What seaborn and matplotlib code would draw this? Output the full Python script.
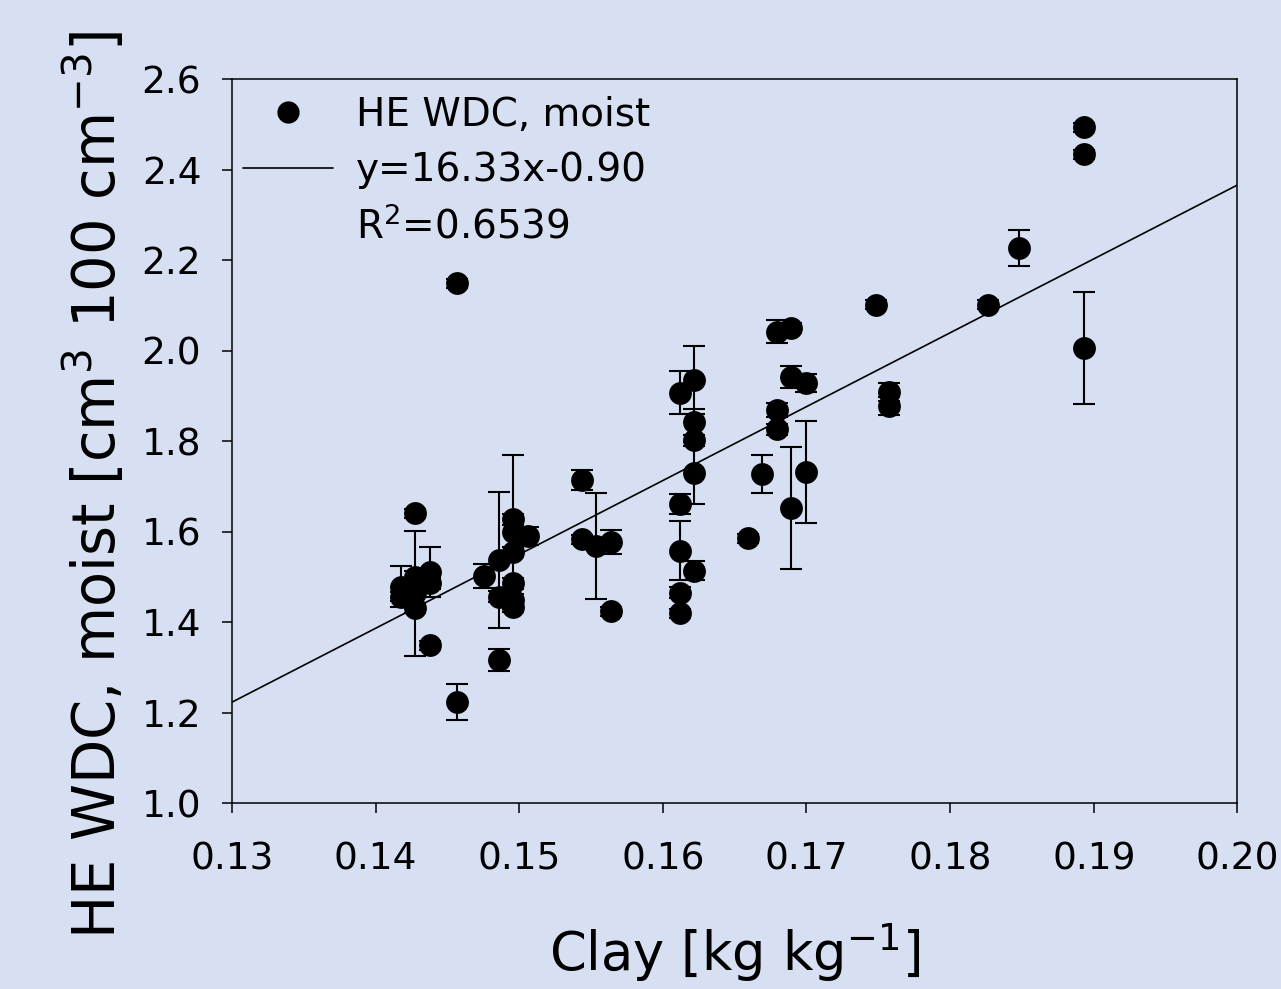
import numpy as np
import pandas as pd
import matplotlib.pyplot as plt
import seaborn as sns
from matplotlib.lines import Line2D

# Data (clay content, moist HE WDC, error bar half-width)
clay = [0.14278, 0.14278, 0.14278, 0.14278,
        0.14176, 0.14176,
        0.14378, 0.14378, 0.14378,
        0.14564, 0.14564,
        0.14756,
        0.14858, 0.14858, 0.14858,
        0.14957, 0.14957, 0.14957, 0.14957, 0.14957, 0.14957,
        0.15058,
        0.15440, 0.15440,
        0.15538,
        0.15642, 0.15642,
        0.16117, 0.16117, 0.16117, 0.16117, 0.16117,
        0.16217, 0.16217, 0.16217, 0.16217, 0.16217,
        0.16593,
        0.16693,
        0.16794, 0.16794, 0.16794,
        0.16895, 0.16895, 0.16895,
        0.16999, 0.16999,
        0.17481,
        0.17572, 0.17572,
        0.18261,
        0.18476,
        0.18929, 0.18929, 0.18929]
wdc = [1.641, 1.500, 1.464, 1.431,
       1.478, 1.456,
       1.511, 1.486, 1.349,
       1.224, 2.149,
       1.502,
       1.537, 1.456, 1.316,
       1.627, 1.600, 1.555, 1.486, 1.449, 1.434,
       1.590,
       1.714, 1.583,
       1.568,
       1.577, 1.424,
       1.907, 1.660, 1.558, 1.465, 1.419,
       1.935, 1.843, 1.802, 1.729, 1.513,
       1.585,
       1.727,
       2.042, 1.869, 1.826,
       2.050, 1.942, 1.653,
       1.929, 1.732,
       2.101,
       1.908, 1.877,
       2.101,
       2.227,
       2.494, 2.434, 2.006]
wdc_err = [0.010, 0.012, 0.138, 0.012,
           0.045, 0.010,
           0.055, 0.012, 0.010,
           0.040, 0.010,
           0.026,
           0.150, 0.012, 0.025,
           0.012, 0.170, 0.012, 0.012, 0.012, 0.012,
           0.020,
           0.022, 0.010,
           0.118,
           0.026, 0.010,
           0.048, 0.022, 0.066, 0.012, 0.010,
           0.075, 0.029, 0.012, 0.069, 0.021,
           0.010,
           0.042,
           0.025, 0.015, 0.012,
           0.010, 0.025, 0.135,
           0.020, 0.113,
           0.010,
           0.020, 0.020,
           0.010,
           0.040,
           0.010, 0.010, 0.124]

slope, intercept, r2 = 16.33, -0.90, 0.6539

df = pd.DataFrame({'clay': clay, 'wdc': wdc, 'err': wdc_err})

sns.set_style("ticks")
plt.rcParams['font.family'] = ['DejaVu Sans']
plt.rcParams['text.color'] = 'black'
plt.rcParams['axes.labelcolor'] = 'black'
plt.rcParams['xtick.color'] = 'black'
plt.rcParams['ytick.color'] = 'black'
bg = '#d6e0f2'

fig = plt.figure(figsize=(12.81, 9.89), dpi=100, facecolor=bg)
ax = fig.add_axes([0.181, 0.188, 0.785, 0.732])
ax.set_facecolor(bg)

ax.errorbar(df['clay'], df['wdc'], yerr=df['err'], fmt='none', ecolor='black',
            elinewidth=1.5, capsize=8, capthick=1.5, zorder=2)
sns.scatterplot(data=df, x='clay', y='wdc', ax=ax, color='black', s=270,
                linewidth=0, zorder=3, legend=False)

# regression line
xs = np.array([0.13, 0.20])
sns.lineplot(x=xs, y=slope * xs + intercept, ax=ax, color='black', lw=1.2, zorder=2)

ax.set_xlim(0.13, 0.20)
ax.set_ylim(1.0, 2.6)
ax.set_xticks(np.arange(0.13, 0.2001, 0.01))
ax.set_xticklabels([f'{v:.2f}' for v in np.arange(0.13, 0.2001, 0.01)])
ax.set_yticks(np.arange(1.0, 2.6001, 0.2))
ax.set_yticklabels([f'{v:.1f}' for v in np.arange(1.0, 2.6001, 0.2)])
ax.tick_params(direction='out', length=7, width=1.1, labelsize=27)
ax.tick_params(axis='x', pad=21)
ax.tick_params(axis='y', pad=15)
for sp in ax.spines.values():
    sp.set_visible(True)
    sp.set_color('black')
    sp.set_linewidth(1.1)

ax.set_xlabel('Clay [kg kg$^{-1}$]', fontsize=38)
ax.xaxis.set_label_coords(0.5, -0.163)
ax.set_ylabel('HE WDC, moist [cm$^3$ 100 cm$^{-3}$]', fontsize=41.5)
ax.yaxis.set_label_coords(-0.136, 0.44)
ax.yaxis.label.set_va('center')

handles = [Line2D([], [], marker='o', ls='none', color='black', markersize=15),
           Line2D([], [], color='black', lw=1.2),
           Line2D([], [], ls='none')]
labels = ['HE WDC, moist', f'y={slope:.2f}x{intercept:.2f}', f'R$^2$={r2:.4f}']
ax.legend(handles, labels, loc='upper left', bbox_to_anchor=(-0.008, 1.004),
          frameon=False, fontsize=28, handlelength=2.3, handletextpad=0.6,
          labelspacing=0.45, borderaxespad=0.2, borderpad=0.3)

fig.savefig('out.png', dpi=100, facecolor=bg)
